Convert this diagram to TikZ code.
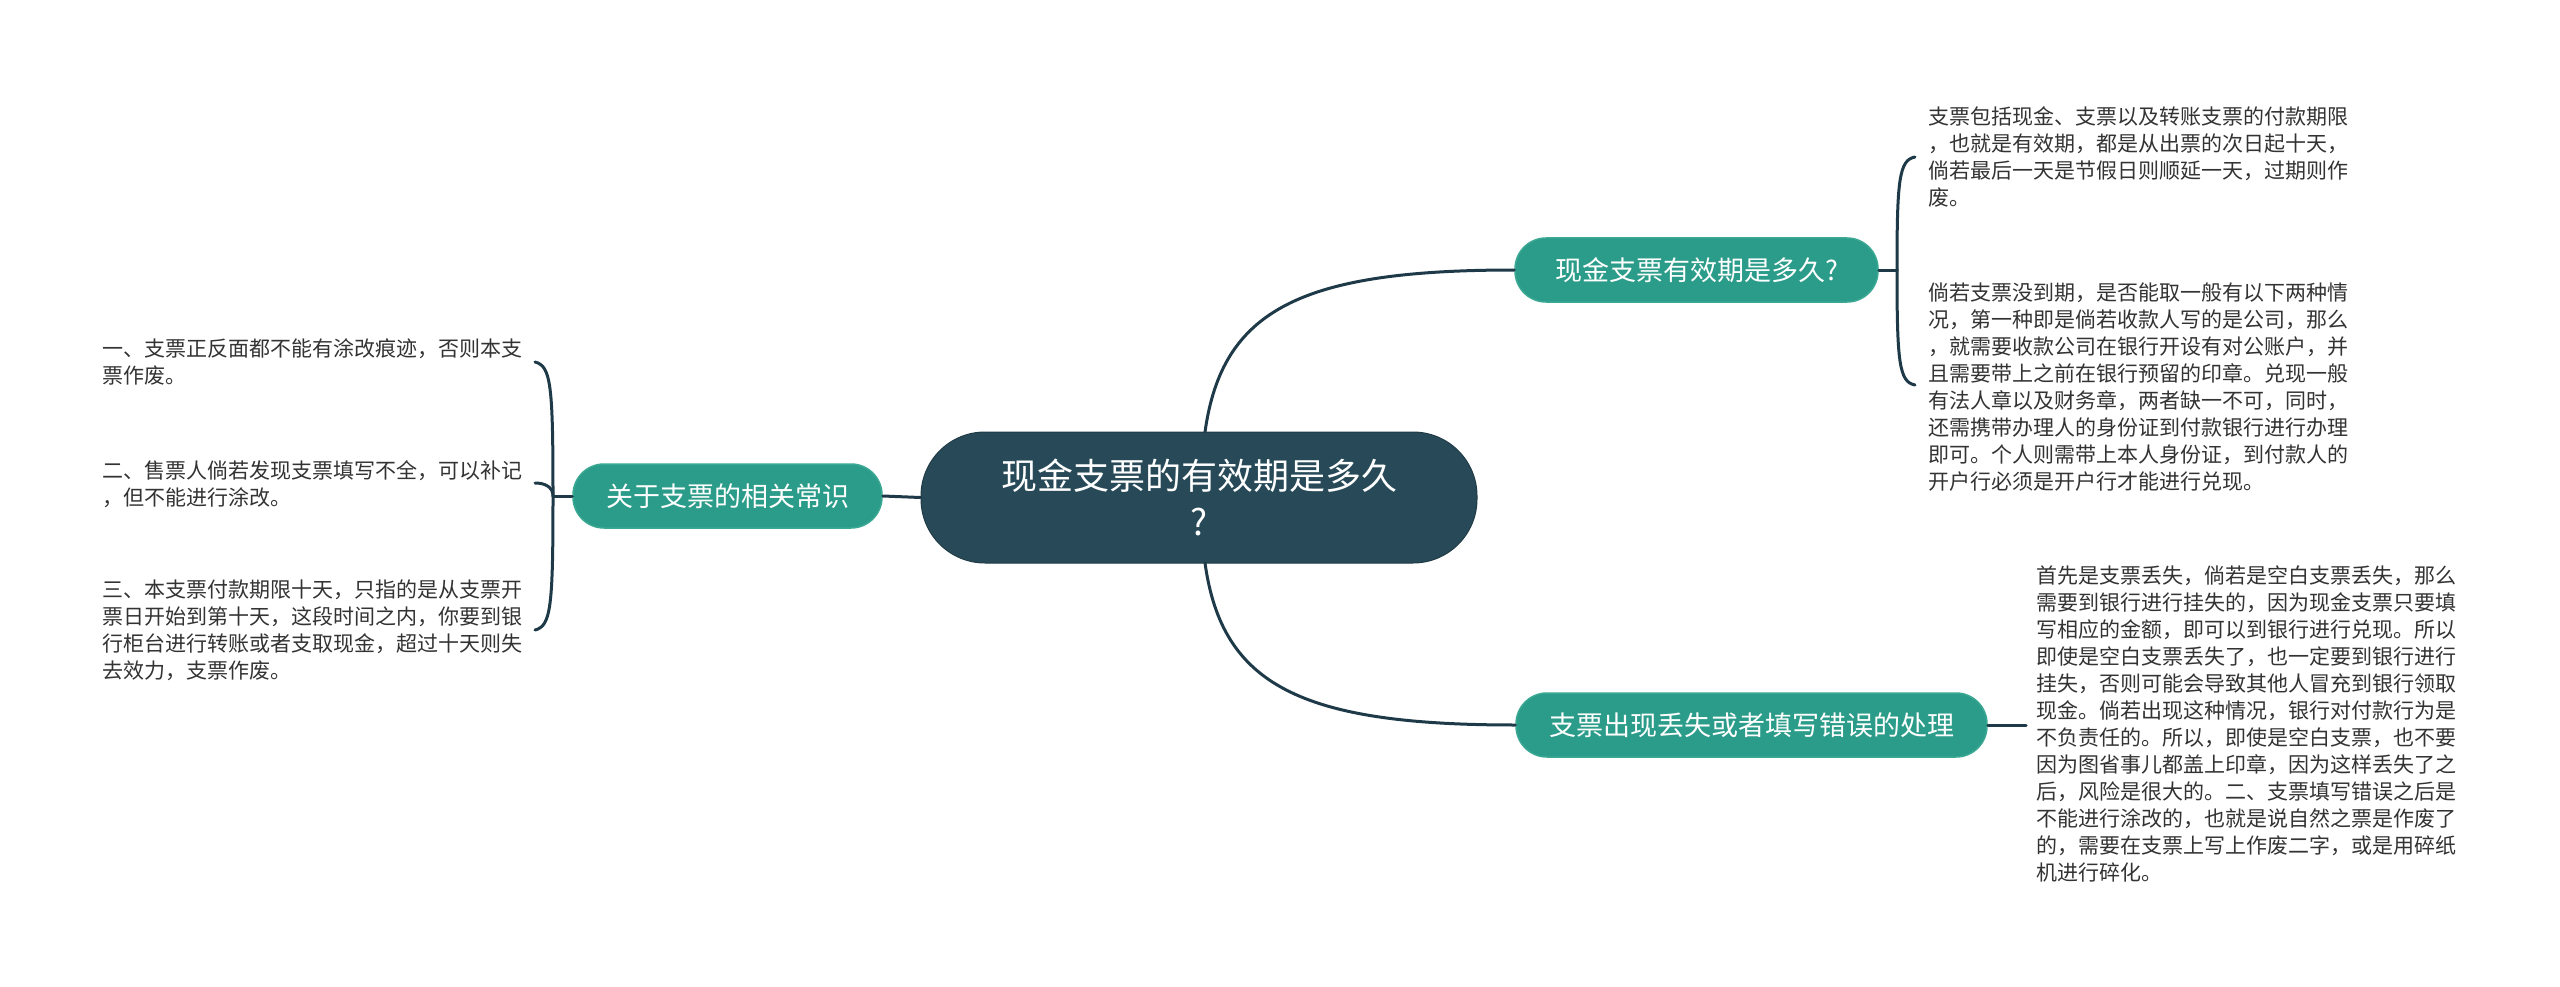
\documentclass[tikz,border=0pt]{standalone}
\usepackage{fontspec}
\newfontfamily\cjk{Noto Sans CJK SC}
\definecolor{centralc}{HTML}{284A58}
\definecolor{branchc}{HTML}{2B9C89}
\definecolor{branchb}{HTML}{3AA893}
\definecolor{linec}{HTML}{1E3A48}
\definecolor{leaftext}{HTML}{333333}
\begin{document}
\begin{tikzpicture}[x=1pt,y=-1pt,
  conn/.style={draw=linec,line width=3pt,line cap=round},
  centralbox/.style={fill=centralc,draw=centralc!80!black,line width=1pt,rounded corners=64pt,minimum width=556pt,minimum height=131pt,inner sep=0pt,align=center,text=white,font=\cjk\fontsize{36pt}{46pt}\selectfont},
  branchbox/.style={fill=branchc,draw=branchb,line width=1.5pt,rounded corners=31pt,minimum height=64pt,inner sep=0pt,text=white,font=\cjk\fontsize{27pt}{32pt}\selectfont},
  leafbox/.style={anchor=west,inner sep=0pt,align=left,text=leaftext,font=\cjk\fontsize{21pt}{27pt}\selectfont}
]
\useasboundingbox (0,0) rectangle (2560,987);
\fill[white] (0,0) rectangle (2560,987);

% nodes
\node[centralbox] (c) at (1199,497.5) {现金支票的有效期是多久\\?};
\node[branchbox,minimum width=363pt] (b1) at (1696.5,270) {现金支票有效期是多久?};
\node[branchbox,minimum width=471pt] (b2) at (1751.5,725) {支票出现丢失或者填写错误的处理};
\node[branchbox,minimum width=309pt] (b3) at (727.5,496) {关于支票的相关常识};

\node[leafbox] (l1) at (1928,157) {支票包括现金、支票以及转账支票的付款期限\\，也就是有效期，都是从出票的次日起十天，\\倘若最后一天是节假日则顺延一天，过期则作\\废。};
\node[leafbox] (l2) at (1928,387) {倘若支票没到期，是否能取一般有以下两种情\\况，第一种即是倘若收款人写的是公司，那么\\，就需要收款公司在银行开设有对公账户，并\\且需要带上之前在银行预留的印章。兑现一般\\有法人章以及财务章，两者缺一不可，同时，\\还需携带办理人的身份证到付款银行进行办理\\即可。个人则需带上本人身份证，到付款人的\\开户行必须是开户行才能进行兑现。};
\node[leafbox] (l3) at (2036,724) {首先是支票丢失，倘若是空白支票丢失，那么\\需要到银行进行挂失的，因为现金支票只要填\\写相应的金额，即可以到银行进行兑现。所以\\即使是空白支票丢失了，也一定要到银行进行\\挂失，否则可能会导致其他人冒充到银行领取\\现金。倘若出现这种情况，银行对付款行为是\\不负责任的。所以，即使是空白支票，也不要\\因为图省事儿都盖上印章，因为这样丢失了之\\后，风险是很大的。二、支票填写错误之后是\\不能进行涂改的，也就是说自然之票是作废了\\的，需要在支票上写上作废二字，或是用碎纸\\机进行碎化。};
\node[leafbox] (l4) at (102,361.5) {一、支票正反面都不能有涂改痕迹，否则本支\\票作废。};
\node[leafbox] (l5) at (102,484) {二、售票人倘若发现支票填写不全，可以补记\\，但不能进行涂改。};
\node[leafbox] (l6) at (102,630) {三、本支票付款期限十天，只指的是从支票开\\票日开始到第十天，这段时间之内，你要到银\\行柜台进行转账或者支取现金，超过十天则失\\去效力，支票作废。};

% joints
\coordinate (jr) at (1897,270);
\coordinate (jb) at (2026,725);
\coordinate (jl) at (553,496);
\coordinate (e1) at (1915,157);
\coordinate (e2) at (1915,385);
\coordinate (e4) at (535,362);
\coordinate (e5) at (535,483);
\coordinate (e6) at (535,630);
\coordinate (ct) at (1205,432);
\coordinate (cb) at (1205,563);

% connectors
\begin{scope}[on background layer/.style={}]
\draw[conn] (ct) .. controls (1222,310) and (1300,270) .. (b1.west);
\draw[conn] (cb) .. controls (1222,685) and (1300,725) .. (b2.west);
\draw[conn] (c.west) -- (b3.east);
\draw[conn] (b1.east) -- (jr);
\draw[conn] (jr) .. controls (1897,180) and (1899,160) .. (e1);
\draw[conn] (jr) .. controls (1897,362) and (1899,382) .. (e2);
\draw[conn] (b2.east) -- (jb);
\draw[conn] (b3.west) -- (jl);
\draw[conn] (jl) .. controls (553,385) and (551,366) .. (e4);
\draw[conn] (jl) .. controls (553,487) and (545,483) .. (e5);
\draw[conn] (jl) .. controls (553,607) and (551,626) .. (e6);
\end{scope}
\end{tikzpicture}
\end{document}
